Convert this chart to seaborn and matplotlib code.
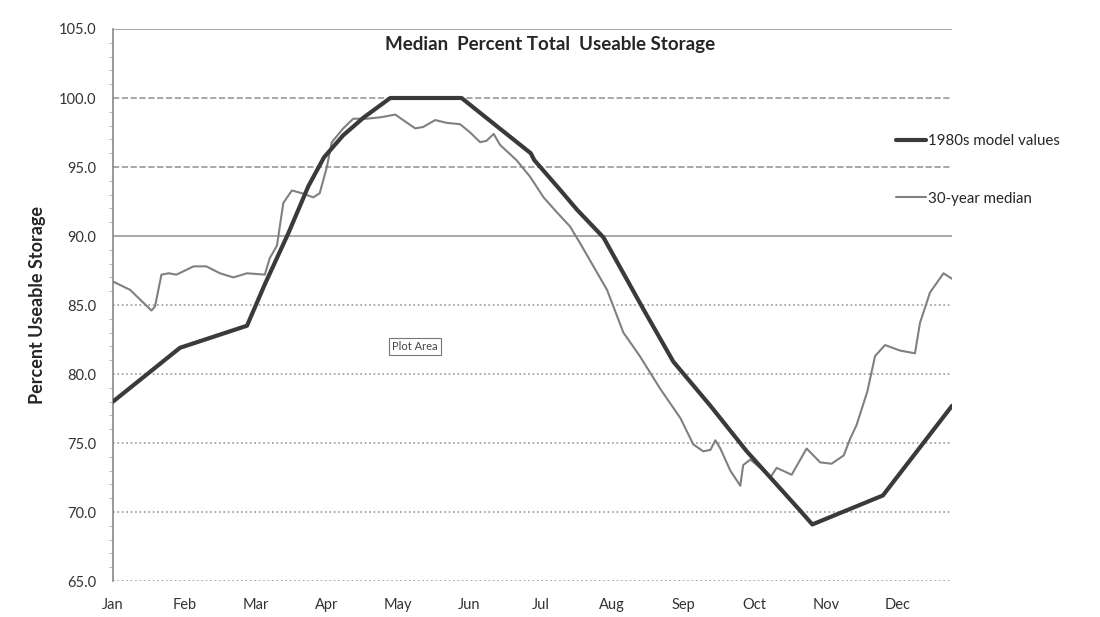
import numpy as np
import pandas as pd
import seaborn as sns
import matplotlib.pyplot as plt
from matplotlib.ticker import MultipleLocator

# month positions: 0 = Jan, 1 = Feb, ... (equal spacing like the original axis)
months = ['Jan', 'Feb', 'Mar', 'Apr', 'May', 'Jun', 'Jul', 'Aug', 'Sep', 'Oct', 'Nov', 'Dec']

# 1980s model values
model_x = [0.0, 0.94, 1.88, 2.13, 2.46, 2.74, 2.96, 3.23, 3.52, 3.89, 4.89, 5.35, 5.86,
           5.91, 6.28, 6.51, 6.88, 7.44, 7.86, 8.38, 8.89, 9.64, 9.81, 10.80, 11.77]
model_y = [78.0, 81.9, 83.5, 86.5, 90.2, 93.6, 95.7, 97.3, 98.6, 100.0, 100.0, 98.1, 96.0,
           95.5, 93.3, 91.9, 89.9, 84.7, 80.9, 77.7, 74.4, 70.1, 69.1, 71.2, 77.7]

# 30-year median
median_x = [0.0, 0.24, 0.54, 0.59, 0.68, 0.78, 0.89, 1.13, 1.31, 1.50, 1.69, 1.88, 2.13,
            2.20, 2.30, 2.39, 2.51, 2.65, 2.81, 2.90, 3.00, 3.07, 3.23, 3.37, 3.56, 3.75,
            3.96, 4.07, 4.24, 4.35, 4.52, 4.68, 4.87, 5.01, 5.15, 5.24, 5.34, 5.43, 5.66,
            5.85, 6.04, 6.23, 6.41, 6.55, 6.74, 6.93, 7.16, 7.39, 7.68, 7.96, 8.14, 8.28,
            8.38, 8.45, 8.52, 8.66, 8.80, 8.84, 8.94, 9.08, 9.22, 9.31, 9.52, 9.73, 9.92,
            10.08, 10.25, 10.34, 10.43, 10.58, 10.69, 10.83, 11.04, 11.25, 11.32, 11.46,
            11.65, 11.77]
median_y = [86.7, 86.1, 84.6, 84.9, 87.2, 87.3, 87.2, 87.8, 87.8, 87.3, 87.0, 87.3, 87.2,
            88.4, 89.3, 92.4, 93.3, 93.1, 92.8, 93.1, 95.0, 96.8, 97.8, 98.5, 98.5, 98.6,
            98.8, 98.4, 97.8, 97.9, 98.4, 98.2, 98.1, 97.5, 96.8, 96.9, 97.4, 96.6, 95.5,
            94.3, 92.8, 91.7, 90.7, 89.5, 87.8, 86.1, 83.0, 81.3, 78.9, 76.8, 74.9, 74.4,
            74.5, 75.2, 74.6, 73.0, 71.9, 73.4, 73.8, 73.2, 72.5, 73.2, 72.7, 74.6, 73.6,
            73.5, 74.1, 75.3, 76.3, 78.7, 81.3, 82.1, 81.7, 81.5, 83.7, 85.9,
            87.3, 86.9]

y_ticks = [65, 70, 75, 80, 85, 90, 95, 100, 105]

sns.set_style('white')
plt.rcParams['font.family'] = ['Lato', 'DejaVu Sans']

fig = plt.figure(figsize=(11, 6.17), dpi=100)
ax = fig.add_axes([0.1027, 0.0583, 0.7628, 0.8947])

# gridlines in the mixed Excel-ish styles
grid_styles = {105: '-', 100: '--', 95: '--', 90: '-', 85: ':', 80: ':', 75: ':', 70: ':', 65: ':'}
for v, ls in grid_styles.items():
    ax.axhline(v, color='#9a9a9a', lw=1.2, ls=ls, zorder=1)

model = pd.DataFrame({'x': model_x, 'y': model_y})
median = pd.DataFrame({'x': median_x, 'y': median_y})

sns.lineplot(data=median, x='x', y='y', ax=ax, color='#808080', lw=1.5,
             label='30-year median', zorder=3)
sns.lineplot(data=model, x='x', y='y', ax=ax, color='#3a3a3a', lw=3.0,
             label='1980s model values', zorder=4)

ax.set_xlim(0, 11.77)
ax.set_ylim(65, 105)
ax.set_yticks(y_ticks)
ax.set_yticklabels([f'{v:.1f}' for v in y_ticks])
ax.yaxis.set_minor_locator(MultipleLocator(1))
ax.set_xticks(range(12))
ax.set_xticklabels(months)
ax.tick_params(axis='x', length=0, pad=12, labelsize=10.5, colors='#333333')
ax.tick_params(axis='y', which='major', length=4, direction='inout', color='#888888',
               pad=10, labelsize=10.5, colors='#333333')
ax.tick_params(axis='y', which='minor', length=3, direction='out', color='#aaaaaa', left=True)
ax.set_xlabel('')
ax.set_ylabel('Percent Useable Storage', fontweight='bold', fontsize=13, labelpad=9)

for side in ['top', 'right', 'bottom']:
    ax.spines[side].set_visible(False)
ax.spines['left'].set_color('#888888')
ax.spines['left'].set_linewidth(1.2)

handles, labels = ax.get_legend_handles_labels()
ax.legend(handles[::-1], labels[::-1], loc='upper left',
          bbox_to_anchor=(896 / 1100, 1 - 134 / 617), bbox_transform=fig.transFigure,
          frameon=False, handlelength=2.0, handletextpad=0.1, labelspacing=2.9,
          fontsize=10.8, borderaxespad=0, borderpad=0)

fig.text(0.5, 0.928, 'Median  Percent Total  Useable Storage', ha='center', va='center',
         fontweight='bold', fontsize=13.5)

ax.text(4.24, 82.0, 'Plot Area', fontsize=8, color='#444444', ha='center', va='center',
        bbox=dict(boxstyle='square,pad=0.3', fc='white', ec='#777777', lw=0.8))

fig.savefig('out.png', dpi=100)
